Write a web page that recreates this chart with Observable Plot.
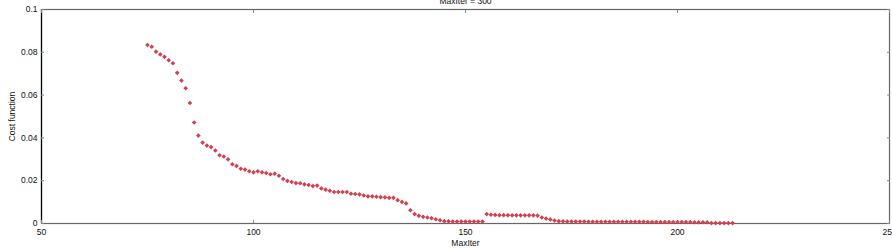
<!DOCTYPE html>
<html>
<head>
<meta charset="utf-8">
<script src="https://cdn.jsdelivr.net/npm/d3@7"></script>
<script src="https://cdn.jsdelivr.net/npm/@observablehq/plot@0.6"></script>
<style>
  html, body { margin: 0; padding: 0; background: #fff; }
</style>
</head>
<body>
<div id="chart"></div>
<script>
const title = "MaxIter = 300";
const xLabel = "MaxIter";
const yLabel = "Cost function";
const xDomain = [50, 250];
const yDomain = [0, 0.1];
const xTicks = [50, 100, 150, 200, 250];
const yTicks = [0, 0.02, 0.04, 0.06, 0.08, 0.1];
const firstIter = 75;
const cost = [
  0.0834, 0.0826, 0.0803, 0.0790, 0.0779, 0.0763, 0.0749, 0.0704, 0.0668, 0.0632,
  0.0563, 0.0472, 0.0411, 0.0378, 0.0364, 0.0357, 0.0341, 0.0319, 0.0313, 0.0300,
  0.0277, 0.0269, 0.0256, 0.0252, 0.0244, 0.0239, 0.0244, 0.0239, 0.0236, 0.0230,
  0.0233, 0.0223, 0.0208, 0.0199, 0.0194, 0.0189, 0.0188, 0.0183, 0.0180, 0.0175,
  0.0177, 0.0164, 0.0158, 0.0153, 0.0147, 0.0147, 0.0147, 0.0147, 0.0139, 0.0138,
  0.0136, 0.0131, 0.0127, 0.0127, 0.0125, 0.0123, 0.0122, 0.0120, 0.0120, 0.0109,
  0.0101, 0.0094, 0.0062, 0.0044, 0.0036, 0.0031, 0.0028, 0.0025, 0.0020, 0.0015,
  0.0011, 0.0010, 0.0009, 0.0009, 0.0009, 0.0009, 0.0009, 0.0009, 0.0009, 0.0009,
  0.0044, 0.0041, 0.0040, 0.0039, 0.0039, 0.0039, 0.0038, 0.0038, 0.0038, 0.0038,
  0.0038, 0.0038, 0.0037, 0.0028, 0.0023, 0.0019, 0.0014, 0.0011, 0.0010, 0.0009,
  0.0009, 0.0009, 0.0009, 0.0009, 0.0008, 0.0008, 0.0008, 0.0008, 0.0008, 0.0008,
  0.0008, 0.0008, 0.0008, 0.0008, 0.0008, 0.0008, 0.0008, 0.0008, 0.0007, 0.0007,
  0.0007, 0.0007, 0.0007, 0.0007, 0.0007, 0.0007, 0.0007, 0.0007, 0.0007, 0.0006,
  0.0006, 0.0006, 0.0006, 0.0002, 0.0002, 0.0002, 0.0002, 0.0002, 0.0002
];

const data = cost.map((c, i) => ({iter: firstIter + i, cost: c}));
const font = "'Liberation Sans', Arial, Helvetica, sans-serif";
const fmtY = d => String(+d.toFixed(2));

const chart = Plot.plot({
  width: 892,
  height: 252,
  marginLeft: 41,
  marginRight: 3,
  marginTop: 9,
  marginBottom: 29,
  style: {fontFamily: font, fontSize: "8.5px", background: "#fff", color: "#111"},
  x: {domain: xDomain},
  y: {domain: yDomain},
  marks: [
    Plot.frame({stroke: "#666", strokeWidth: 1.2}),
    Plot.ruleX([xDomain[0]], {stroke: "#000", strokeWidth: 1.2}),
    // tick labels
    Plot.axisX({ticks: xTicks, tickSize: 0, tickPadding: 5, label: xLabel, labelAnchor: "center", labelOffset: 22, labelArrow: "none", fontSize: 8.5}),
    Plot.axisY({ticks: yTicks, tickSize: 0, tickPadding: 4, tickFormat: fmtY, label: yLabel, labelAnchor: "center", labelOffset: 33, labelArrow: "none", fontSize: 8.5}),
    // inward tick marks
    Plot.axisX({ticks: xTicks, anchor: "bottom", tickSize: -3, tickFormat: () => "", label: null, stroke: "#888"}),
    Plot.axisX({ticks: xTicks, anchor: "top", tickSize: -3, tickFormat: () => "", label: null, stroke: "#888"}),
    Plot.axisY({ticks: yTicks, anchor: "left", tickSize: -3, tickFormat: () => "", label: null, stroke: "#888"}),
    Plot.axisY({ticks: yTicks, anchor: "right", tickSize: -3, tickFormat: () => "", label: null, stroke: "#888"}),
    Plot.dot(data, {x: "iter", y: "cost", symbol: "diamond2", r: 2.1, fill: "#d2404f", stroke: "none"}),
    Plot.text([title], {frameAnchor: "top", dy: -6, lineAnchor: "bottom", fontSize: 8.5, fill: "#111"})
  ]
});
document.getElementById("chart").appendChild(chart);
</script>
</body>
</html>
